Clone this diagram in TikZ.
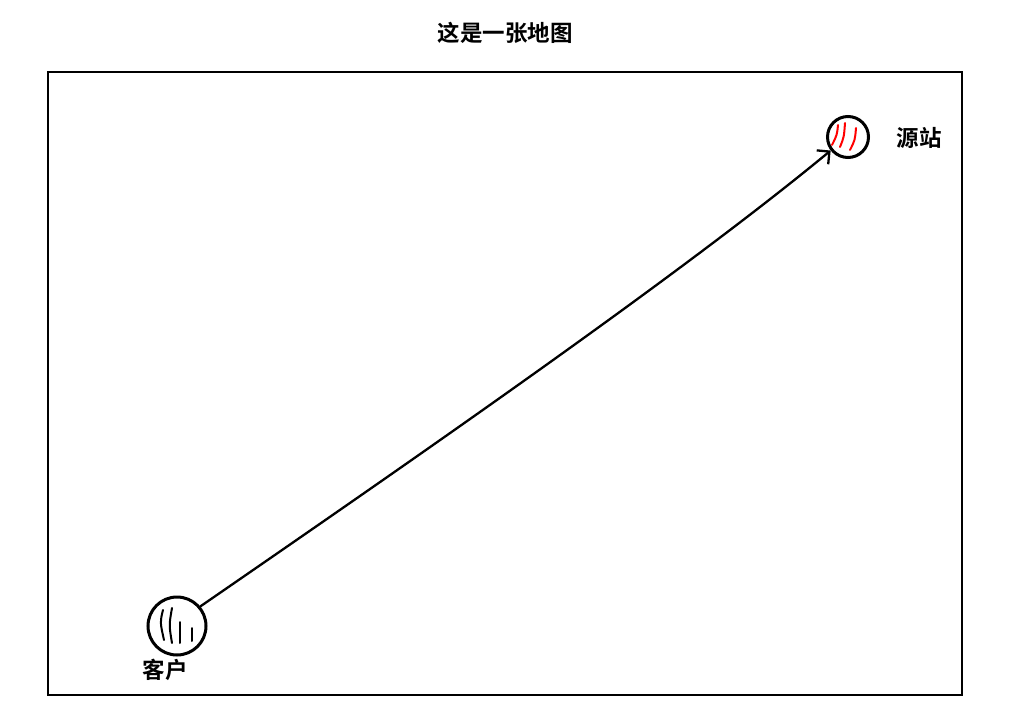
\documentclass[tikz,border=0pt]{standalone}
\usepackage{fontspec}
\newfontfamily\cjk{Noto Sans CJK SC}[BoldFont={Noto Sans CJK SC Bold}]
\usetikzlibrary{arrows.meta}
\begin{document}
\begin{tikzpicture}[x=1pt,y=-1pt,
  lbl/.style={font=\cjk\bfseries\fontsize{22.5}{22.5}\selectfont, inner sep=0pt},
  place/.style={circle, draw, line width=3pt, inner sep=0pt},
  stroke/.style={line width=2pt, line cap=round},
  conn/.style={line width=2.3pt, line cap=round, -{Straight Barb[length=9pt,width=18pt,line width=2.3pt]}}]
\useasboundingbox (0,0) rectangle (1013,725);
\node[lbl] (title) at (505,33) {这是一张地图};
\draw[line width=2.4pt] (48,72) rectangle (962,695);
\node[place, minimum width=58pt, minimum height=52pt] (client) at (177,626) {};
\node[place, minimum size=41pt] (source) at (848,137) {};
\node[lbl] (clientlbl) at (165,670) {客户};
\node[lbl] (sourcelbl) at (919,138) {源站};
% inner strokes client
\draw[stroke] (163,610) .. controls (160,622) .. (164,640);
\draw[stroke] (172,608) .. controls (169,625) .. (172,643);
\draw[stroke] (180,622) -- (180,643);
\draw[stroke] (192,628) -- (192,641);
% inner strokes source
\draw[stroke, red] (838,125) .. controls (837,135) .. (832,145);
\draw[stroke, red] (845,123) .. controls (844,137) .. (840,147);
\draw[stroke, red] (856,128) .. controls (855,140) .. (850,150);
% connector
\draw[conn] (client.40) .. controls (420,455) and (680,275) .. (source.218);
\end{tikzpicture}
\end{document}
